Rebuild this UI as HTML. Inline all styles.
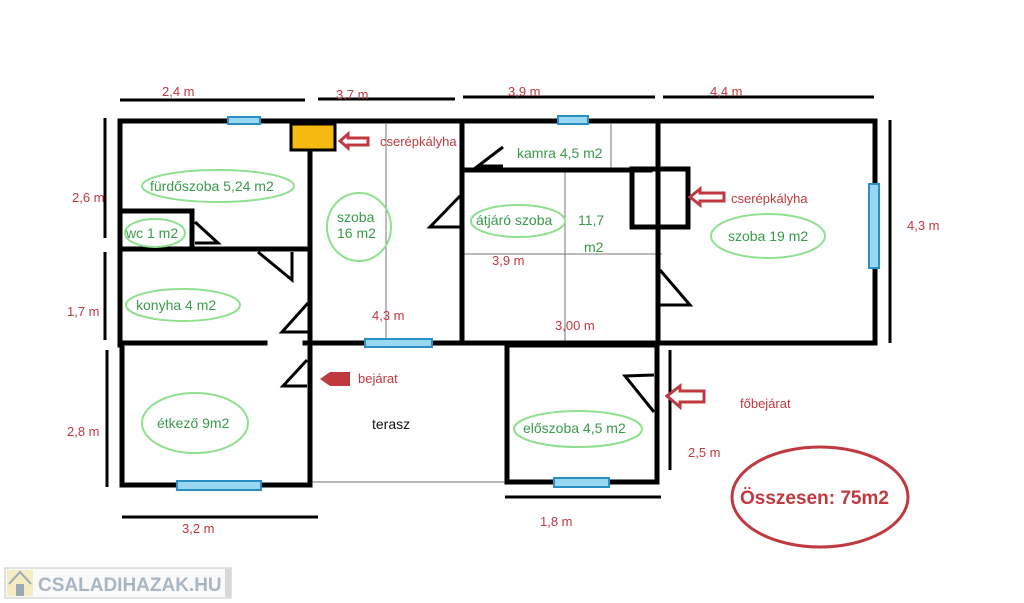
<!DOCTYPE html>
<html><head><meta charset="utf-8"><style>
html,body{margin:0;padding:0;background:#fff;}
svg{display:block;}
text{font-family:"Liberation Sans",sans-serif;}
.r{fill:#c0393f;font-size:13px;}
.g{fill:#3a9a4a;font-size:14px;}
.eg{fill:none;stroke:#8fe08f;stroke-width:2;}
.w{stroke:#000;stroke-width:5;fill:none;stroke-linecap:square;}
.d{stroke:#000;stroke-width:3;fill:none;}
.t{stroke:#777;stroke-width:1;fill:none;}
.win{fill:#9ad7f0;stroke:#2a8fc4;stroke-width:2;}
.dr{stroke:#000;stroke-width:3;fill:none;}
</style></head><body>
<svg width="1024" height="603" viewBox="0 0 1024 603" xmlns="http://www.w3.org/2000/svg">
<!-- dimension lines -->
<line class="d" x1="120" y1="100" x2="305" y2="100"/>
<line class="d" x1="318" y1="99" x2="455" y2="99"/>
<line class="d" x1="463" y1="97" x2="655" y2="97"/>
<line class="d" x1="663" y1="97" x2="874" y2="97"/>
<line class="d" x1="105" y1="118" x2="105" y2="238"/>
<line class="d" x1="105" y1="252" x2="105" y2="340"/>
<line class="d" x1="107" y1="350" x2="107" y2="487"/>
<line class="d" x1="890" y1="120" x2="890" y2="343"/>
<line class="d" x1="122" y1="517" x2="318" y2="517"/>
<line class="d" x1="505" y1="497" x2="661" y2="497"/>
<line class="d" x1="670" y1="350" x2="670" y2="470"/>
<!-- thin lines -->
<line class="t" x1="386" y1="124" x2="386" y2="343"/>
<line class="t" x1="611" y1="124" x2="611" y2="170"/>
<line class="t" x1="565" y1="170" x2="565" y2="343"/>
<line class="t" x1="462" y1="254" x2="662" y2="254"/>
<line class="t" x1="310" y1="482" x2="507" y2="482"/>
<!-- walls -->
<polyline class="w" points="120,345 120,121 875,121 875,343"/>
<line class="w" x1="120" y1="343" x2="265" y2="343"/>
<line class="w" x1="305" y1="343" x2="875" y2="343"/>
<line class="w" x1="310" y1="150" x2="310" y2="482"/>
<line class="w" x1="120" y1="249" x2="310" y2="249"/>
<polyline class="w" points="120,211 192,211 192,249"/>
<line class="w" x1="462" y1="121" x2="462" y2="343"/>
<line class="w" x1="462" y1="170" x2="650" y2="170"/>
<line class="w" x1="658" y1="121" x2="658" y2="343"/>
<polyline class="w" points="660,169 688,169 688,227 632,227 632,169 660,169"/>
<polyline class="w" points="122,345 122,485 310,485 310,345"/>
<polyline class="w" points="507,482 507,345 657,345 657,482 507,482"/>
<!-- stove -->
<rect x="291" y="124" width="44" height="26" fill="#f5b90f" stroke="#000" stroke-width="3"/>
<!-- doors -->
<polyline class="dr" points="195,222 218,243 195,243"/>
<polyline class="dr" points="258,252 292,280 292,252"/>
<polyline class="dr" points="308,303 282,332 308,332"/>
<polyline class="dr" points="307,360 283,386 307,386"/>
<polyline class="dr" points="460,196 430,227 460,227"/>
<polyline class="dr" points="503,147 478,166 503,166"/>
<polyline class="dr" points="660,270 690,305 660,305"/>
<polyline class="dr" points="654,375 625,376 654,412"/>
<!-- windows -->
<rect class="win" x="228" y="117" width="32" height="7"/>
<rect class="win" x="558" y="116" width="30" height="8"/>
<rect class="win" x="869" y="184" width="10" height="84"/>
<rect class="win" x="365" y="339" width="67" height="8"/>
<rect class="win" x="177" y="481" width="84" height="9"/>
<rect class="win" x="554" y="478" width="55" height="9"/>
<!-- arrows -->
<path d="M340,141 L348,134 L348,138 L368,138 L368,145 L348,145 L348,148 Z" fill="#fff" stroke="#c0393f" stroke-width="3"/>
<path d="M690,197 L700,189 L700,193 L724,193 L724,201 L700,201 L700,205 Z" fill="#fff" stroke="#c0393f" stroke-width="3"/>
<path d="M320,379 L330,372 L350,372 L350,386 L330,386 Z" fill="#c0393f"/>
<path d="M667,396 L680,386 L680,391 L704,391 L704,402 L680,402 L680,407 Z" fill="#fff" stroke="#c0393f" stroke-width="3"/>
<!-- ellipses -->
<ellipse class="eg" cx="218" cy="186" rx="76" ry="16"/>
<ellipse class="eg" cx="155" cy="233" rx="30" ry="14"/>
<ellipse class="eg" cx="359" cy="227" rx="32" ry="34"/>
<ellipse class="eg" cx="183" cy="305" rx="57" ry="16"/>
<ellipse class="eg" cx="518" cy="221" rx="47" ry="16"/>
<ellipse class="eg" cx="768" cy="236" rx="57" ry="22"/>
<ellipse class="eg" cx="195" cy="423" rx="53" ry="30"/>
<ellipse class="eg" cx="578" cy="429" rx="64" ry="18"/>
<ellipse cx="820" cy="497" rx="88" ry="50" fill="none" stroke="#c0393f" stroke-width="3"/>
<!-- green labels -->
<text class="g" x="150" y="191">fürdőszoba  5,24 m2</text>
<text class="g" x="126" y="238" font-size="13">wc 1 m2</text>
<text class="g" x="337" y="222">szoba</text>
<text class="g" x="337" y="238">16 m2</text>
<text class="g" x="136" y="310">konyha  4 m2</text>
<text class="g" x="517" y="158">kamra 4,5 m2</text>
<text class="g" x="476" y="225">átjáró  szoba</text>
<text class="g" x="578" y="225">11,7</text>
<text class="g" x="584" y="252">m2</text>
<text class="g" x="728" y="241">szoba 19 m2</text>
<text class="g" x="157" y="428">étkező 9m2</text>
<text class="g" x="523" y="433">előszoba 4,5 m2</text>
<text x="372" y="429" font-size="14" fill="#111">terasz</text>
<!-- red labels -->
<text class="r" x="162" y="96">2,4 m</text>
<text class="r" x="336" y="99">3,7 m</text>
<text class="r" x="508" y="96">3,9 m</text>
<text class="r" x="710" y="96">4,4 m</text>
<text class="r" x="380" y="146">cserépkályha</text>
<text class="r" x="731" y="203">cserépkályha</text>
<text class="r" x="72" y="202">2,6 m</text>
<text class="r" x="67" y="316">1,7 m</text>
<text class="r" x="67" y="436">2,8 m</text>
<text class="r" x="907" y="230">4,3 m</text>
<text class="r" x="372" y="320">4,3 m</text>
<text class="r" x="492" y="265">3,9 m</text>
<text class="r" x="555" y="330">3,00 m</text>
<text class="r" x="358" y="383">bejárat</text>
<text class="r" x="740" y="408">főbejárat</text>
<text class="r" x="688" y="457">2,5 m</text>
<text class="r" x="182" y="533">3,2 m</text>
<text class="r" x="540" y="526">1,8 m</text>
<text x="740" y="504" font-size="19" font-weight="bold" fill="#c0393f">Összesen: 75m2</text>
<!-- watermark -->
<rect x="5" y="568" width="226" height="30" fill="#fafafa" stroke="#d8d8d8" stroke-width="1.5"/>
<rect x="225" y="569" width="6" height="28" fill="#d8d8d8"/>
<rect x="7" y="570" width="26" height="26" fill="#f6ecc4"/>
<path d="M9,584 L20,572 L31,584" fill="none" stroke="#9aa8b8" stroke-width="2"/>
<rect x="16" y="584" width="8" height="12" fill="#9aa8b8"/>
<text x="38" y="591" font-size="19" font-weight="bold" fill="#a9b6c4">CSALADIHAZAK.HU</text>
</svg>
</body></html>
